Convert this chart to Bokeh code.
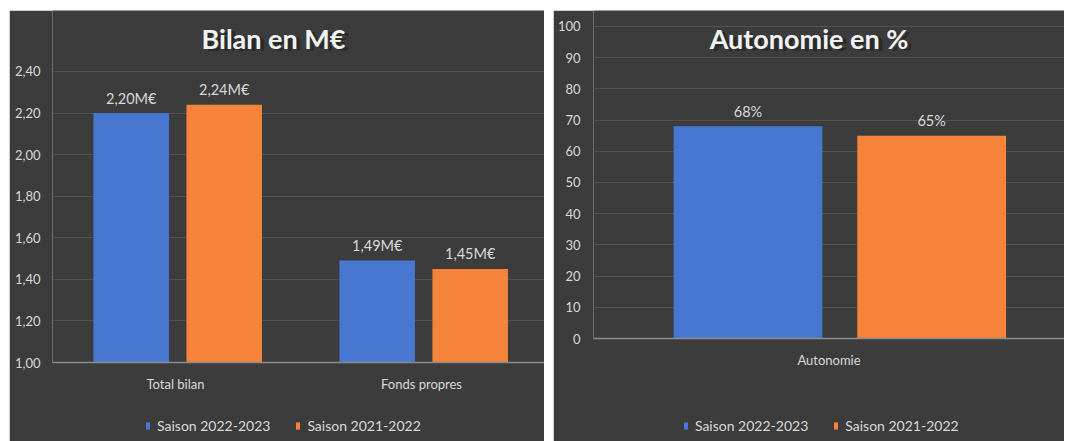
from bokeh.plotting import figure
from bokeh.models import (FactorRange, Range1d, FixedTicker, Legend, LegendItem,
                          ColumnDataSource)
from bokeh.transform import dodge
from bokeh.core.properties import value
from bokeh.embed import file_html
from bokeh.resources import INLINE

# ---------------- data ----------------
bilan_categories = ["Total bilan", "Fonds propres"]
bilan_2022_2023 = [2.20, 1.49]
bilan_2021_2022 = [2.24, 1.45]
bilan_ticks = [1.0, 1.2, 1.4, 1.6, 1.8, 2.0, 2.2, 2.4]

auto_categories = ["Autonomie"]
auto_2022_2023 = [68]
auto_2021_2022 = [65]
auto_ticks = [0, 10, 20, 30, 40, 50, 60, 70, 80, 90, 100]

series_names = ["Saison 2022-2023", "Saison 2021-2022"]

# ---------------- style ----------------
FONT = "Lato"
BG = "#3c3c3c"
TXT = "#d9d9d9"
GRID = "#525252"
AXIS = "#8c8c8c"
BLUE = "#4877d1"
ORANGE = "#f5843a"


def fr(v):
    return f"{v:.2f}".replace(".", ",")


def style(p):
    p.background_fill_color = BG
    p.border_fill_color = BG
    p.outline_line_color = None
    p.xgrid.grid_line_color = None
    p.ygrid.grid_line_color = GRID
    p.ygrid.grid_line_width = 1
    p.yaxis.axis_line_color = None
    p.yaxis.major_tick_line_color = None
    p.yaxis.minor_tick_line_color = None
    p.yaxis.major_tick_out = 0
    p.yaxis.major_tick_in = 0
    p.yaxis.major_label_text_color = TXT
    p.yaxis.major_label_text_font = FONT
    p.yaxis.major_label_text_font_size = "13px"
    p.xaxis.axis_line_color = AXIS
    p.xaxis.axis_line_width = 1.5
    p.xaxis.major_tick_line_color = None
    p.xaxis.minor_tick_line_color = None
    p.xaxis.major_tick_out = 0
    p.xaxis.major_tick_in = 0
    p.xaxis.major_label_text_color = TXT
    p.xaxis.major_label_text_font = FONT
    p.xaxis.major_label_text_font_size = "13px"
    p.xaxis.major_label_standoff = 13


def add_title(p, x, y, text, x_off):
    p.text(x=[x], y=[y], text=[text], text_align="center", text_baseline="middle",
           text_font=value(FONT), text_font_style="bold", text_font_size="27px",
           text_color="#1e1e1e", text_alpha=0.6, x_offset=x_off + 4, y_offset=2)
    p.text(x=[x], y=[y], text=[text], text_align="center", text_baseline="middle",
           text_font=value(FONT), text_font_style="bold", text_font_size="27px",
           text_color="#f2f2f2", x_offset=x_off)


def add_legend(p, r1, r2, loc):
    leg = Legend(items=[LegendItem(label=series_names[0], renderers=[r1]),
                        LegendItem(label=series_names[1], renderers=[r2])],
                 orientation="horizontal", location=loc,
                 background_fill_alpha=0, border_line_color=None,
                 label_text_color=TXT, label_text_font=FONT,
                 label_text_font_size="14px", glyph_width=5, glyph_height=9,
                 label_standoff=7, spacing=25, padding=0, margin=0)
    p.add_layout(leg, "below")


def add_values(p, src, off_a, off_b):
    for field, lab, off in (("a", "la", off_a), ("b", "lb", off_b)):
        p.text(x=dodge("cat", off, range=p.x_range), y=field, text=lab, source=src,
               text_align="center", text_baseline="middle", y_offset=-15,
               text_color=TXT, text_font=value(FONT), text_font_size="14.5px")


# ---------------- left chart ----------------
src1 = ColumnDataSource(dict(
    cat=bilan_categories,
    a=bilan_2022_2023,
    b=bilan_2021_2022,
    la=[fr(v) + "M€" for v in bilan_2022_2023],
    lb=[fr(v) + "M€" for v in bilan_2021_2022],
))

p1 = figure(width=540, height=431, x_range=FactorRange(*bilan_categories),
            y_range=Range1d(1.0, 2.693), output_backend="svg",
            toolbar_location=None, min_border_top=0, min_border_left=43,
            min_border_right=0, min_border_bottom=79)
p1.x_range.range_padding = 0
style(p1)
p1.yaxis.ticker = FixedTicker(ticks=bilan_ticks)
p1.yaxis.major_label_overrides = {t: fr(t) for t in bilan_ticks}
p1.yaxis.major_label_standoff = 12

OFF1 = (-0.18, 0.198)
ra = p1.vbar(x=dodge("cat", OFF1[0], range=p1.x_range), top="a", bottom=1.0,
             width=0.307, source=src1, fill_color=BLUE, line_color=None)
rb = p1.vbar(x=dodge("cat", OFF1[1], range=p1.x_range), top="b", bottom=1.0,
             width=0.307, source=src1, fill_color=ORANGE, line_color=None)
add_values(p1, src1, *OFF1)
add_title(p1, bilan_categories[0], 2.558, "Bilan en M€", 98)
add_legend(p1, ra, rb, (93, -8))

# ---------------- right chart ----------------
src2 = ColumnDataSource(dict(
    cat=auto_categories,
    a=auto_2022_2023,
    b=auto_2021_2022,
    la=[f"{v}%" for v in auto_2022_2023],
    lb=[f"{v}%" for v in auto_2021_2022],
))

p2 = figure(width=515, height=431, x_range=FactorRange(*auto_categories),
            y_range=Range1d(0, 105.1), output_backend="svg",
            toolbar_location=None, min_border_top=0, min_border_left=40,
            min_border_right=0, min_border_bottom=103)
p2.x_range.range_padding = 0
style(p2)
p2.yaxis.ticker = FixedTicker(ticks=auto_ticks)
p2.yaxis.major_label_standoff = 13

OFF2 = (-0.172, 0.218)
rc = p2.vbar(x=dodge("cat", OFF2[0], range=p2.x_range), top="a", bottom=0,
             width=0.316, source=src2, fill_color=BLUE, line_color=None)
rd = p2.vbar(x=dodge("cat", OFF2[1], range=p2.x_range), top="b", bottom=0,
             width=0.316, source=src2, fill_color=ORANGE, line_color=None)
add_values(p2, src2, *OFF2)
add_title(p2, auto_categories[0], 96.1, "Autonomie en %", -20)
add_legend(p2, rc, rd, (90, -20))

html = file_html([p1, p2], INLINE)
css = ("<style>html, body {margin:0 !important;} body {display:flex !important;"
       "flex-direction:row; align-items:flex-start; gap:8px; "
       "padding:10px 0 0 9px !important; box-sizing:border-box;}</style>")
html = html.replace("</head>", css + "</head>", 1)
open("out.html", "w").write(html)
